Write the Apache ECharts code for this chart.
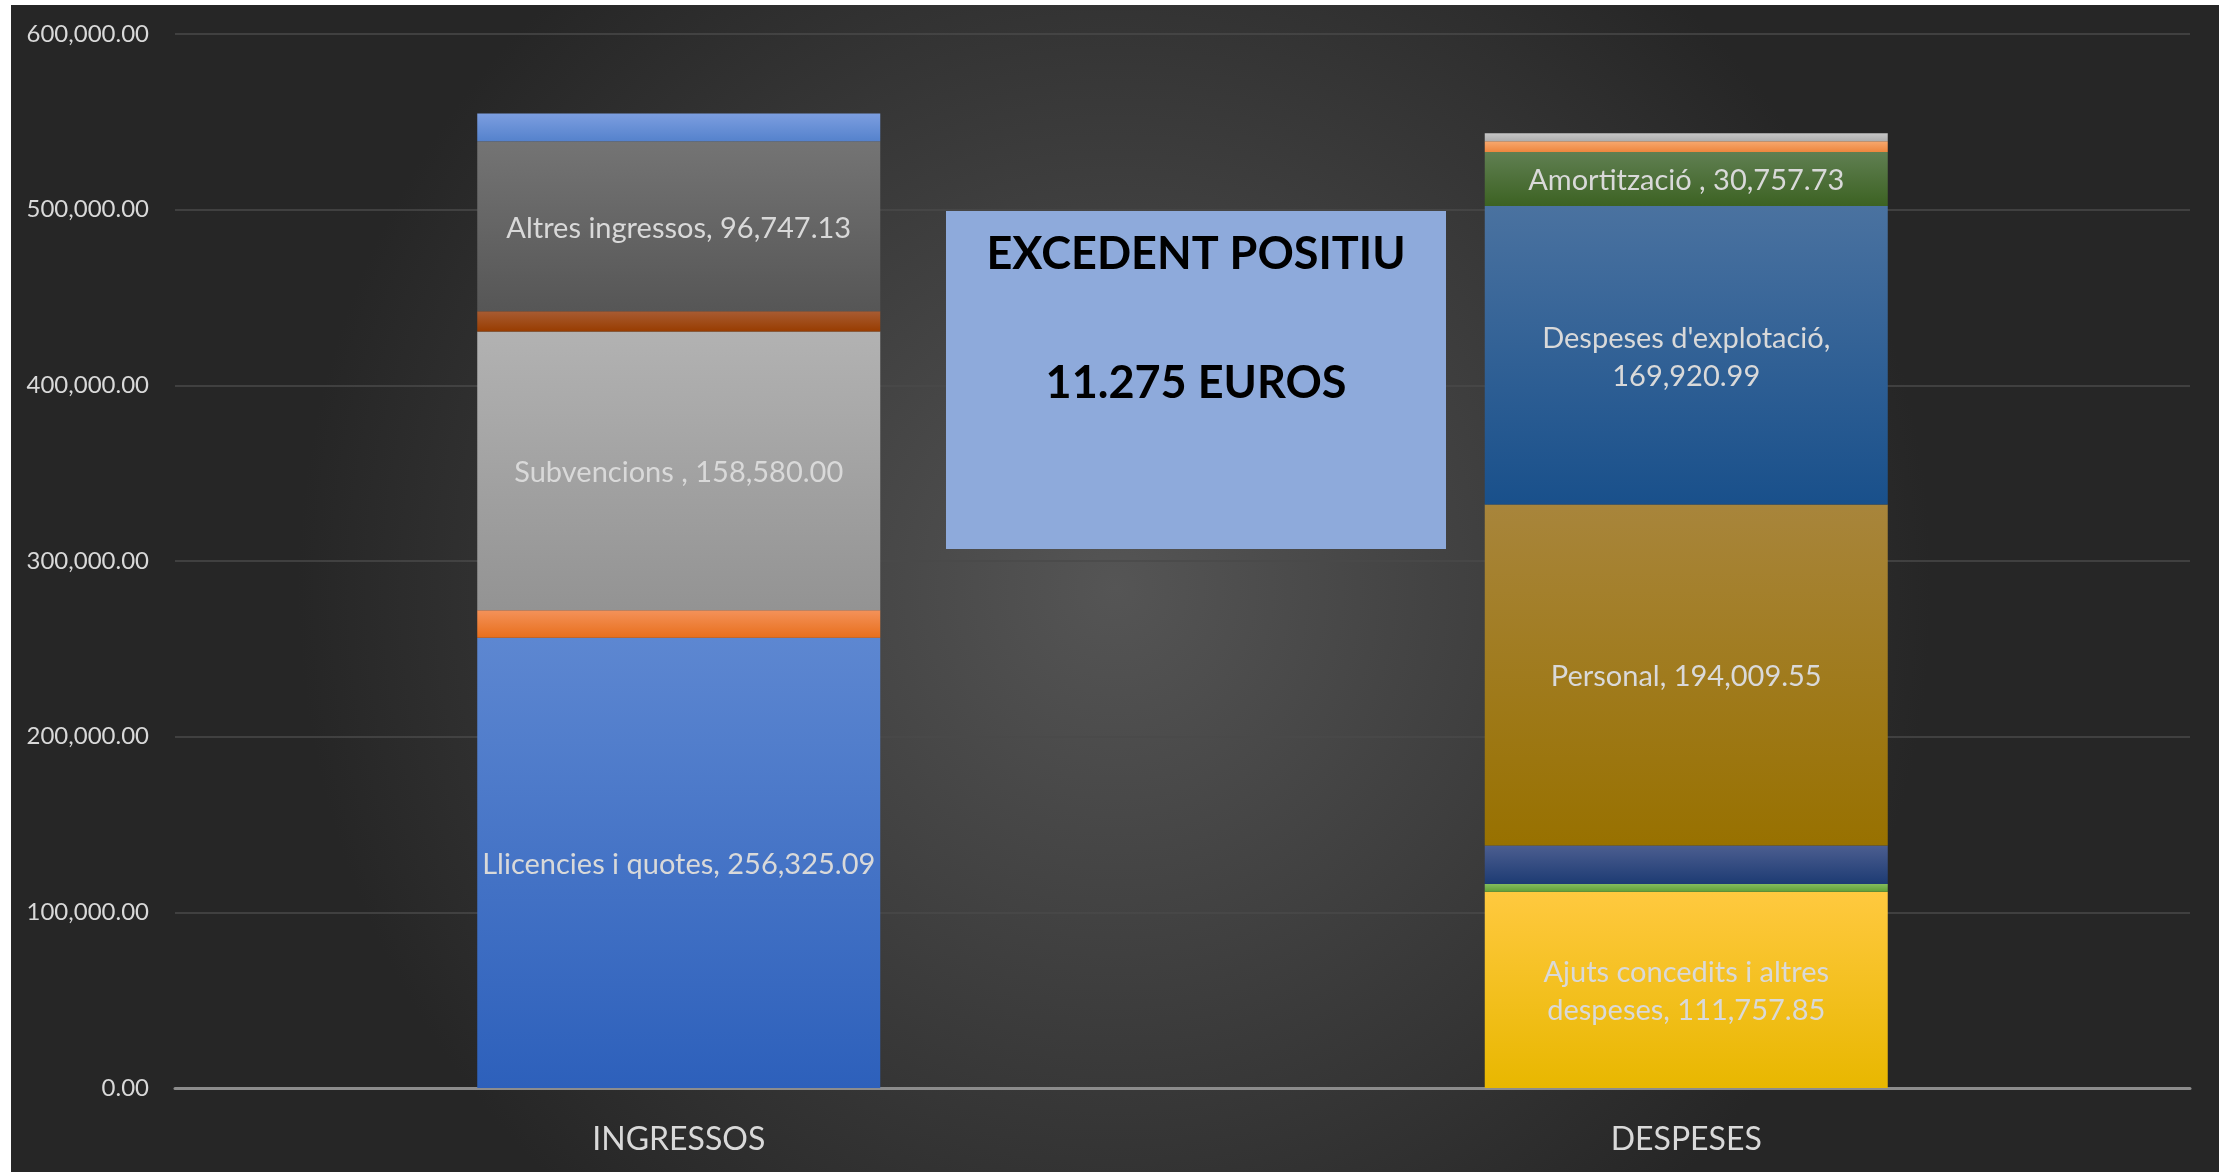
<!DOCTYPE html>
<html>
<head>
<meta charset="utf-8">
<script src="https://cdn.jsdelivr.net/npm/echarts@6/dist/echarts.min.js"></script>
<style>
html,body{margin:0;padding:0;background:#fff;}
#chart{width:2231px;height:1172px;}
</style>
</head>
<body>
<div id="chart"></div>
<script>
// ---- data ----
const categories = ['INGRESSOS', 'DESPESES'];

// Ingressos segments (bottom -> top)
const ingNames  = ['Llicencies i quotes', '', 'Subvencions ', '', 'Altres ingressos', ''];
const ingValues = [256325.09, 15700, 158580.00, 11600, 96747.13, 15820];

// Despeses segments (bottom -> top)
const desNames  = ['Ajuts concedits i altres\ndespeses', '', '', 'Personal', "Despeses d'explotació", 'Amortització ', '', ''];
const desValues = [111757.85, 4350, 22000, 194009.55, 169920.99, 30757.73, 6150, 4550];
const desSep    = [', ', '', '', ', ', ',\n', ', ', '', ''];

const yTicks = [0, 100000, 200000, 300000, 400000, 500000, 600000];
const boxLines = ['EXCEDENT POSITIU', '11.275 EUROS'];

// ---- styles ----
const ingColors = [
  ['#5D87D1', '#2D60BB'],
  ['#F4925A', '#E86F1C'],
  ['#B2B2B2', '#939393'],
  ['#A85C33', '#983C00'],
  ['#747474', '#565656'],
  ['#7C9EE0', '#5582CC']
];
const desColors = [
  ['#FFC93F', '#E8B700'],
  ['#84BC5C', '#60A038'],
  ['#4C5E90', '#1D3B73'],
  ['#A8853B', '#987100'],
  ['#4A72A0', '#19508B'],
  ['#607F52', '#3C6222'],
  ['#F7A86E', '#EE863E'],
  ['#C6C6C6', '#ADADAD']
];

function fmt(v) {
  return v.toLocaleString('en-US', {minimumFractionDigits: 2, maximumFractionDigits: 2});
}
function grad(c) {
  return new echarts.graphic.LinearGradient(0, 0, 0, 1, [{offset: 0, color: c[0]}, {offset: 1, color: c[1]}]);
}
const labelBase = {
  color: '#D9D9D9', fontSize: 29, fontFamily: 'Lato', lineHeight: 38, position: 'inside', offset: [0, 2]
};

const series = [];
ingValues.forEach((v, i) => {
  series.push({
    type: 'bar', stack: 'total', name: 'ing' + i, barWidth: '40%',
    data: [v, '-'],
    itemStyle: {color: grad(ingColors[i])},
    label: ingNames[i] ? Object.assign({show: true, formatter: () => ingNames[i] + ', ' + fmt(v)}, labelBase) : {show: false},
    emphasis: {disabled: true}
  });
});
desValues.forEach((v, i) => {
  series.push({
    type: 'bar', stack: 'total', name: 'des' + i, barWidth: '40%',
    data: ['-', v],
    itemStyle: {color: grad(desColors[i])},
    label: desNames[i] ? Object.assign({show: true, formatter: () => desNames[i] + desSep[i] + fmt(v)}, labelBase) : {show: false},
    emphasis: {disabled: true}
  });
});

const chart = echarts.init(document.getElementById('chart'));
chart.setOption({
  animation: false,
  backgroundColor: '#ffffff',
  grid: {left: 175, right: 41, top: 34, bottom: 84, containLabel: false},
  xAxis: {
    type: 'category', data: categories,
    axisLine: {show: true, lineStyle: {color: '#8C8C8C', width: 3}},
    axisTick: {show: false},
    axisLabel: {color: '#D9D9D9', fontSize: 32, fontFamily: 'Lato', margin: 36}
  },
  yAxis: {
    type: 'value', min: yTicks[0], max: yTicks[yTicks.length - 1], interval: yTicks[1] - yTicks[0],
    axisLine: {show: false}, axisTick: {show: false},
    splitLine: {lineStyle: {color: '#4A4A4A', width: 1.5}},
    axisLabel: {color: '#D9D9D9', fontSize: 24, fontFamily: 'Lato', margin: 26, formatter: v => fmt(v)}
  },
  graphic: [
    {
      type: 'rect', z: -10, silent: true,
      shape: {x: 11, y: 5, width: 2208, height: 1167},
      style: {
        fill: new echarts.graphic.RadialGradient(0.5, 0.5, 0.7, [
          {offset: 0, color: '#555555'},
          {offset: 1, color: '#262626'}
        ])
      }
    },
    {type: 'rect', z: 100, zlevel: 1, silent: true, shape: {x: 946, y: 211, width: 500, height: 338}, style: {fill: '#8EAADB'}},
    {type: 'text', z: 101, zlevel: 1, silent: true, x: 1196, y: 254, style: {text: boxLines[0], fill: '#000', font: 'bold 45px Lato', textAlign: 'center', textVerticalAlign: 'middle'}},
    {type: 'text', z: 101, zlevel: 1, silent: true, x: 1196, y: 383, style: {text: boxLines[1], fill: '#000', font: 'bold 45px Lato', textAlign: 'center', textVerticalAlign: 'middle'}}
  ],
  series: series
});
</script>
</body>
</html>
